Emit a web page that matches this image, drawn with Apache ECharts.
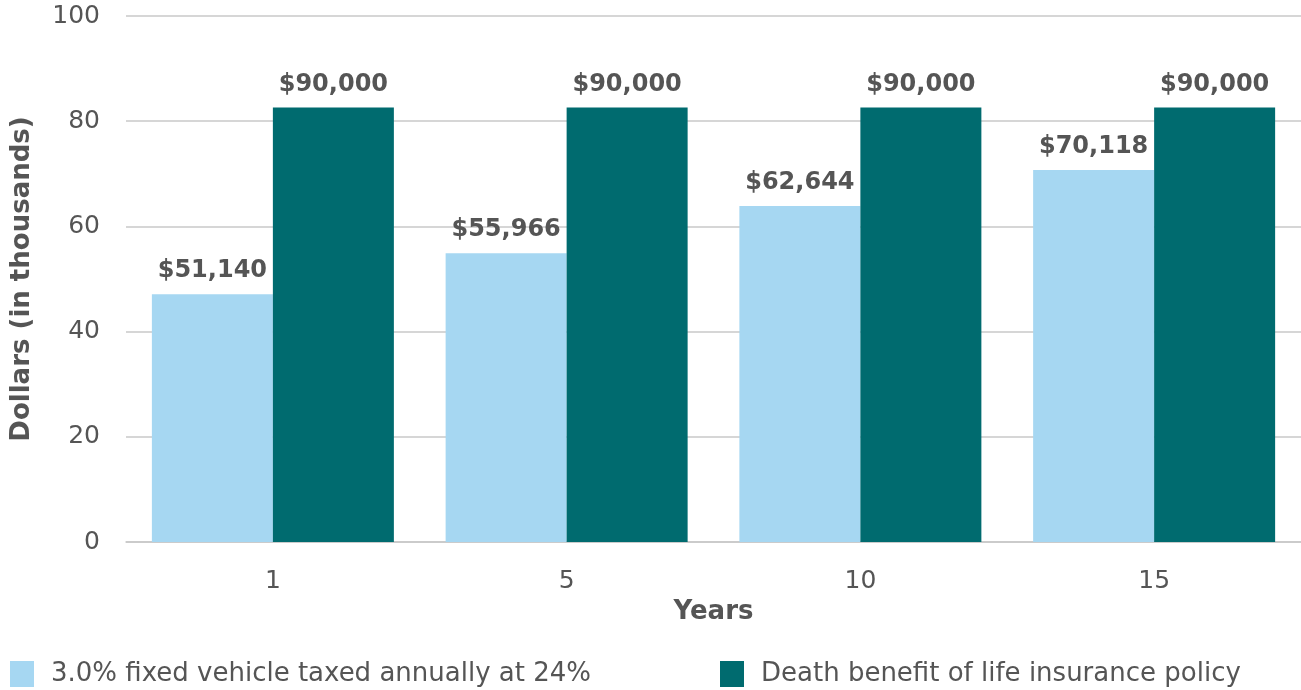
<!DOCTYPE html>
<html>
<head>
<meta charset="utf-8">
<script src="https://cdn.jsdelivr.net/npm/echarts@6/dist/echarts.min.js"></script>
<style>
  html, body { margin: 0; padding: 0; background: #fff; }
  #chart { width: 1301px; height: 690px; }
</style>
</head>
<body>
<div id="chart"></div>
<script>
// categories (years)
var years = ['1', '5', '10', '15'];
// bar heights as drawn (thousands of dollars)
var vehicleValues = [47.1, 54.9, 63.9, 70.7];
var deathValues = [82.6, 82.6, 82.6, 82.6];
// labels printed above bars
var vehicleLabels = ['$51,140', '$55,966', '$62,644', '$70,118'];
var deathLabels = ['$90,000', '$90,000', '$90,000', '$90,000'];
var seriesNames = ['3.0% fixed vehicle taxed annually at 24%', 'Death benefit of life insurance policy'];
var yTicks = [0, 20, 40, 60, 80, 100];

var FONT = 'DejaVu Sans';
var TXT = '#555555';

var myChart = echarts.init(document.getElementById('chart'));

//one legend per series so each item sits where the original has it
function legendAt(name, left) {
    return {
        data: [name],
        left: left,
        top: 661,
        padding: 0,
        icon: 'rect',
        itemWidth: 24,
        itemHeight: 26,
        selectedMode: false,
        textStyle: {
            fontFamily: FONT,
            fontSize: 26,
            color: TXT,
            padding: [0, 0, 0, 12]
        }
    };
}

function barLabel(texts) {
    return {
        show: true,
        position: 'top',
        distance: 11,
        fontFamily: FONT,
        fontSize: 24,
        fontWeight: 'bold',
        color: TXT,
        formatter: function (p) { return texts[p.dataIndex]; }
    };
}

var option = {
    animation: false,
    legend: [
        legendAt(seriesNames[0], 10),
        legendAt(seriesNames[1], 720)
    ],
    grid: {
        left: 126,
        right: 0,
        top: 16,
        bottom: 148
    },
    xAxis: {
        type: 'category',
        data: years,
        name: 'Years',
        nameLocation: 'middle',
        nameGap: 48,
        nameTextStyle: { fontFamily: FONT, fontSize: 26, fontWeight: 'bold', color: TXT },
        axisLine: { show: true, lineStyle: { color: '#c8c8c8', width: 1.5 } },
        axisTick: { show: false },
        axisLabel: { margin: 27, fontFamily: FONT, fontSize: 25, color: TXT }
    },
    yAxis: {
        type: 'value',
        min: yTicks[0],
        max: yTicks[yTicks.length - 1],
        interval: 20,
        name: 'Dollars (in thousands)',
        nameLocation: 'middle',
        nameRotate: 90,
        nameGap: 91,
        nameTextStyle: { fontFamily: FONT, fontSize: 26, fontWeight: 'bold', color: TXT },
        axisLine: { show: false },
        axisTick: { show: false },
        axisLabel: { margin: 26, fontFamily: FONT, fontSize: 25, color: TXT },
        splitLine: { lineStyle: { color: '#c8c8c8', width: 1.5 } }
    },
    series: [
        {
            name: seriesNames[0],
            type: 'bar',
            data: vehicleValues,
            barWidth: 121,
            barGap: '0%',
            itemStyle: { color: '#a6d7f2' },
            label: barLabel(vehicleLabels)
        },
        {
            name: seriesNames[1],
            type: 'bar',
            data: deathValues,
            barWidth: 121,
            barGap: '0%',
            itemStyle: { color: '#006b6f' },
            label: barLabel(deathLabels)
        }
    ]
};
myChart.setOption(option);
</script>
</body>
</html>
